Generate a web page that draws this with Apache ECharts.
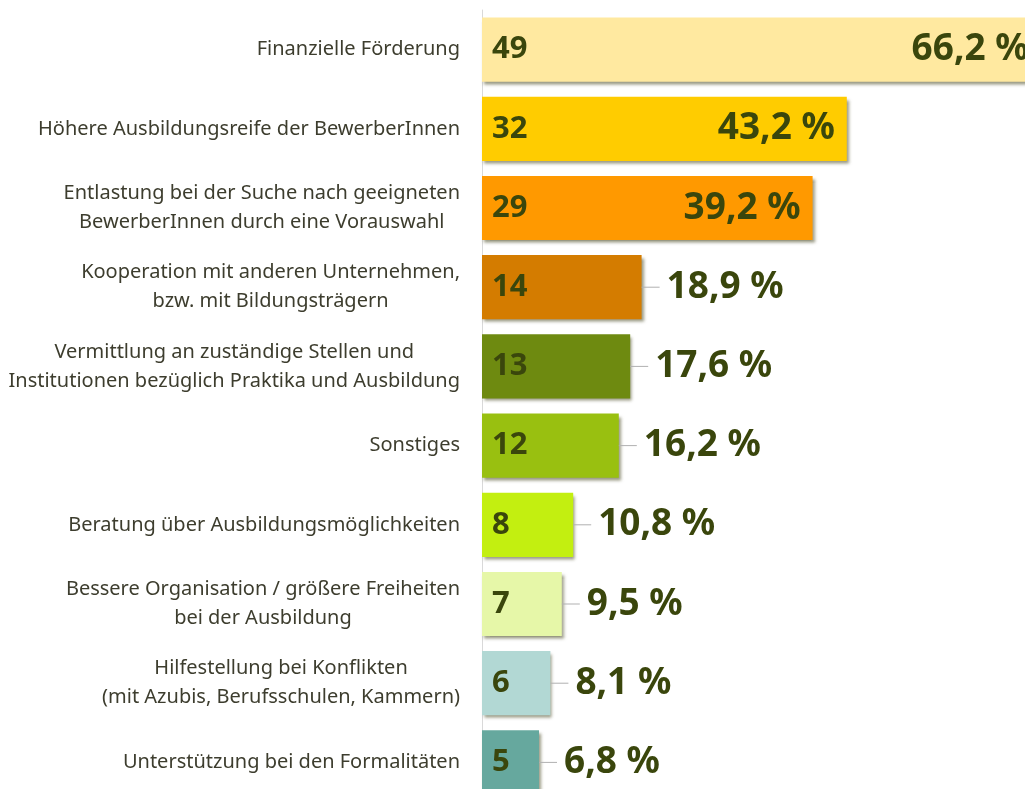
<!DOCTYPE html>
<html>
<head>
<meta charset="utf-8">
<script src="https://cdn.jsdelivr.net/npm/echarts@6/dist/echarts.min.js"></script>
<style>
  html, body { margin: 0; padding: 0; background: #fff; }
  #chart { width: 1025px; height: 789px; }
</style>
</head>
<body>
<div id="chart"></div>
<script>
const categories = [
  "Finanzielle Förderung",
  "Höhere Ausbildungsreife der BewerberInnen",
  "Entlastung bei der Suche nach geeigneten\nBewerberInnen durch eine Vorauswahl",
  "Kooperation mit anderen Unternehmen,\nbzw. mit Bildungsträgern",
  "Vermittlung an zuständige Stellen und\nInstitutionen bezüglich Praktika und Ausbildung",
  "Sonstiges",
  "Beratung über Ausbildungsmöglichkeiten",
  "Bessere Organisation / größere Freiheiten\nbei der Ausbildung",
  "Hilfestellung bei Konflikten\n(mit Azubis, Berufsschulen, Kammern)",
  "Unterstützung bei den Formalitäten"
];
const counts = [49, 32, 29, 14, 13, 12, 8, 7, 6, 5];
const percents = [66.2, 43.2, 39.2, 18.9, 17.6, 16.2, 10.8, 9.5, 8.1, 6.8];
const colors = ["#FFE9A0", "#FFCC00", "#FF9900", "#D47C00", "#6E8A10",
                "#99C010", "#C3EF10", "#E6F7A8", "#B2D8D4", "#66A89E"];
const insideCount = 3; // first bars carry the percent inside

const textColor = "#3a460c";
const font = "Noto Sans";
const pctText = v => v.toFixed(1).replace(".", ",") + " %";

const chart = echarts.init(document.getElementById("chart"));

chart.setOption({
  animation: false,
  // plot runs past the right and bottom edges, like the cropped original
  grid: { left: 482, top: 10, width: 570, height: 792, outerBoundsMode: "none" },
  xAxis: {
    type: "value",
    min: 0,
    max: 50,
    show: false
  },
  yAxis: {
    type: "category",
    inverse: true,
    data: categories,
    axisLine: { show: true, lineStyle: { color: "#d9d9d9", width: 1 } },
    axisTick: { show: false },
    axisLabel: {
      margin: 22,
      formatter: v => v.split("\n").map(s => "{c|" + s + "}").join("\n"),
      rich: {
        c: {
          align: "center",
          fontFamily: font,
          fontSize: 20,
          lineHeight: 29,
          color: "#3d3d2e"
        }
      }
    }
  },
  series: [
    {
      type: "bar",
      barWidth: "81%",
      data: counts.map((v, i) => ({
        value: v,
        itemStyle: { color: colors[i] }
      })),
      itemStyle: {
        shadowColor: "rgba(70,70,30,0.55)",
        shadowBlur: 3,
        shadowOffsetX: 2,
        shadowOffsetY: 3
      },
      label: {
        show: true,
        position: "insideLeft",
        distance: 10,
        fontFamily: font,
        fontWeight: "bold",
        fontSize: 31,
        color: textColor
      }
    },
    {
      type: "bar",
      barWidth: "81%",
      barGap: "-100%",
      silent: true,
      itemStyle: { color: "transparent" },
      data: counts.map((v, i) => ({
        value: v,
        label: i < insideCount
          ? { position: "insideRight", distance: 12, formatter: pctText(percents[i]) }
          : { position: "right", distance: 0, formatter: "{ln| }{sp| }{p|" + pctText(percents[i]) + "}" }
      })),
      label: {
        show: true,
        fontFamily: font,
        fontWeight: "bold",
        fontSize: 37,
        color: textColor,
        rich: {
          ln: { width: 18, height: 1, backgroundColor: "#b0b0b0", fontSize: 1, lineHeight: 1 },
          sp: { width: 7, fontSize: 1 },
          p: { fontFamily: font, fontWeight: "bold", fontSize: 37, color: textColor }
        }
      }
    }
  ]
});
</script>
</body>
</html>
